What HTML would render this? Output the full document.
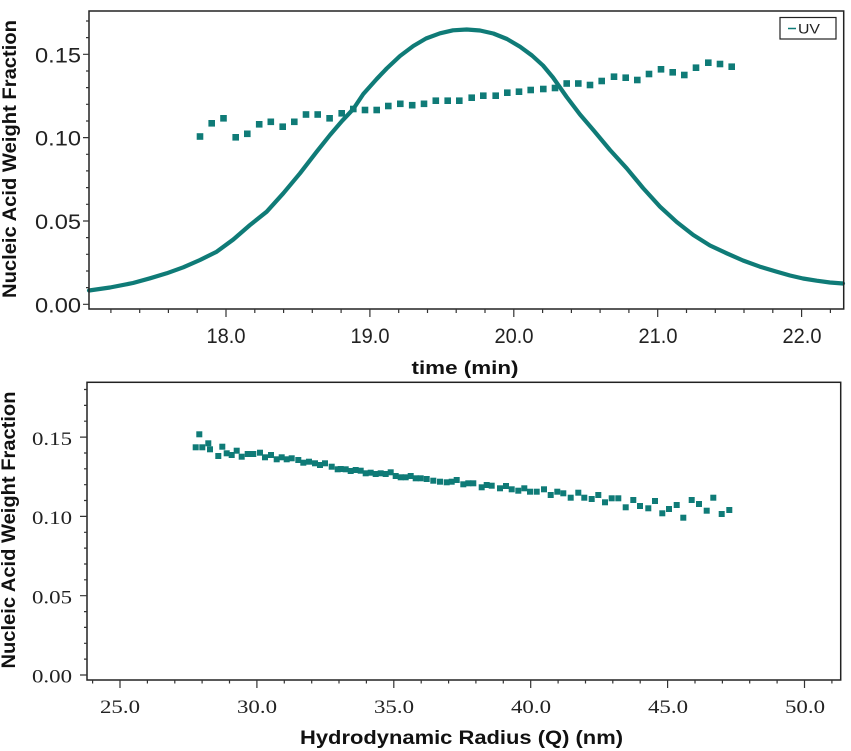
<!DOCTYPE html>
<html><head><meta charset="utf-8"><style>
html,body{margin:0;padding:0;background:#fff;}
svg{display:block;}
.ax{font-family:"Liberation Sans",sans-serif;font-size:21px;fill:#222;}
.axs{font-family:"Liberation Serif",serif;font-size:19px;fill:#222;}
.tt{font-family:"Liberation Sans",sans-serif;font-weight:bold;fill:#111;}
</style></head><body>
<svg width="851" height="751" viewBox="0 0 851 751" xmlns="http://www.w3.org/2000/svg">
<rect width="851" height="751" fill="#fff"/>

<polyline fill="none" stroke="#0f7b77" stroke-width="4.2" stroke-linejoin="round" stroke-linecap="round" points="89,290.5 110,287.5 133,283 150,278.3 166.7,273.3 183.3,267.3 200,260 216.7,251.7 233.3,239.5 250,225 266.7,211.7 283.3,193.3 300,173.3 316.7,151.7 330,135 342,121 353.3,109 363.3,94 376.7,79 386.7,68.5 400,56 413.3,46 426,38.5 440,33.3 453,30.3 466.7,29.5 480,30.5 493.3,33.5 507,39 520,46.7 532,55.5 543,65.5 553,77.5 566.7,97 580,114.5 593.3,130 610,150 626.7,168.3 643,188 660,206.7 676.7,222 693.3,235 710,245.5 726.7,253.3 743,260.5 760,266.7 776,271.5 790,275.5 803,278.5 816.7,280.7 830,282.5 843,283.5"/>

<g fill="#0f7b77">
<rect x="196.7" y="133.2" width="6.6" height="6.6"/>
<rect x="208.4" y="120" width="6.6" height="6.6"/>
<rect x="220.2" y="115" width="6.6" height="6.6"/>
<rect x="232.4" y="134" width="6.6" height="6.6"/>
<rect x="244" y="130.5" width="6.6" height="6.6"/>
<rect x="255.9" y="121" width="6.6" height="6.6"/>
<rect x="267.5" y="118.5" width="6.6" height="6.6"/>
<rect x="279.4" y="123.4" width="6.6" height="6.6"/>
<rect x="291" y="118.5" width="6.6" height="6.6"/>
<rect x="302.7" y="111.2" width="6.6" height="6.6"/>
<rect x="314.4" y="111.2" width="6.6" height="6.6"/>
<rect x="326.3" y="115" width="6.6" height="6.6"/>
<rect x="338.4" y="110" width="6.6" height="6.6"/>
<rect x="350" y="105.7" width="6.6" height="6.6"/>
<rect x="361.7" y="106.7" width="6.6" height="6.6"/>
<rect x="373.4" y="106.7" width="6.6" height="6.6"/>
<rect x="385" y="102.7" width="6.6" height="6.6"/>
<rect x="397" y="100.5" width="6.6" height="6.6"/>
<rect x="408.9" y="101.9" width="6.6" height="6.6"/>
<rect x="420.7" y="100.5" width="6.6" height="6.6"/>
<rect x="432.5" y="97.4" width="6.6" height="6.6"/>
<rect x="444.4" y="97.4" width="6.6" height="6.6"/>
<rect x="456" y="97.4" width="6.6" height="6.6"/>
<rect x="468.4" y="94.4" width="6.6" height="6.6"/>
<rect x="480" y="92.4" width="6.6" height="6.6"/>
<rect x="492.4" y="92.4" width="6.6" height="6.6"/>
<rect x="504" y="89.4" width="6.6" height="6.6"/>
<rect x="515.7" y="88.4" width="6.6" height="6.6"/>
<rect x="527.4" y="86.7" width="6.6" height="6.6"/>
<rect x="540" y="85.7" width="6.6" height="6.6"/>
<rect x="551.7" y="84.7" width="6.6" height="6.6"/>
<rect x="563.4" y="80.2" width="6.6" height="6.6"/>
<rect x="575" y="80.2" width="6.6" height="6.6"/>
<rect x="586.7" y="81.7" width="6.6" height="6.6"/>
<rect x="598.4" y="77.7" width="6.6" height="6.6"/>
<rect x="610.7" y="73.4" width="6.6" height="6.6"/>
<rect x="622.4" y="74.4" width="6.6" height="6.6"/>
<rect x="634" y="76.7" width="6.6" height="6.6"/>
<rect x="645.7" y="70.7" width="6.6" height="6.6"/>
<rect x="657.7" y="66" width="6.6" height="6.6"/>
<rect x="669.4" y="69" width="6.6" height="6.6"/>
<rect x="681" y="71.7" width="6.6" height="6.6"/>
<rect x="692.7" y="64.4" width="6.6" height="6.6"/>
<rect x="705" y="59.4" width="6.6" height="6.6"/>
<rect x="716.7" y="60.7" width="6.6" height="6.6"/>
<rect x="728.4" y="63.4" width="6.6" height="6.6"/>
</g>

<rect x="89" y="11" width="754.7" height="298" fill="none" stroke="#222" stroke-width="1.5"/>

<path stroke="#333" stroke-width="1.2" fill="none" d="M83,304.3H89 M83,221H89 M83,137.6H89 M83,54.3H89 M86,287.6H89 M86,271H89 M86,254.3H89 M86,237.6H89 M86,204.3H89 M86,187.6H89 M86,170.9H89 M86,154.3H89 M86,121H89 M86,104.3H89 M86,87.6H89 M86,71H89 M86,37.6H89 M86,21H89 M226,309V317 M369.9,309V317 M513.8,309V317 M657.7,309V317 M801.6,309V317 M110.9,309V313 M139.7,309V313 M168.4,309V313 M197.2,309V313 M254.8,309V313 M283.6,309V313 M312.3,309V313 M341.1,309V313 M398.7,309V313 M427.5,309V313 M456.2,309V313 M485,309V313 M542.6,309V313 M571.4,309V313 M600.1,309V313 M628.9,309V313 M686.5,309V313 M715.3,309V313 M744,309V313 M772.8,309V313 M830.4,309V313"/>

<g class="ax" text-anchor="end">
<text x="81" y="312.3" textLength="46" lengthAdjust="spacingAndGlyphs">0.00</text>
<text x="81" y="229" textLength="46" lengthAdjust="spacingAndGlyphs">0.05</text>
<text x="81" y="145.6" textLength="46" lengthAdjust="spacingAndGlyphs">0.10</text>
<text x="81" y="62.3" textLength="46" lengthAdjust="spacingAndGlyphs">0.15</text>
</g>
<g class="ax" text-anchor="middle">
<text x="226" y="343" textLength="39" lengthAdjust="spacingAndGlyphs">18.0</text>
<text x="370" y="343" textLength="39" lengthAdjust="spacingAndGlyphs">19.0</text>
<text x="514" y="343" textLength="39" lengthAdjust="spacingAndGlyphs">20.0</text>
<text x="658" y="343" textLength="39" lengthAdjust="spacingAndGlyphs">21.0</text>
<text x="802" y="343" textLength="39" lengthAdjust="spacingAndGlyphs">22.0</text>
</g>
<text class="tt" font-size="18" x="465" y="374" text-anchor="middle" textLength="107" lengthAdjust="spacingAndGlyphs">time (min)</text>
<text class="tt" font-size="19" transform="translate(16,159) rotate(-90)" text-anchor="middle" textLength="278" lengthAdjust="spacingAndGlyphs">Nucleic Acid Weight Fraction</text>

<rect x="780" y="17.5" width="56" height="21.5" fill="#fff" stroke="#222" stroke-width="1.2"/>
<line x1="788" y1="28.5" x2="796" y2="28.5" stroke="#0f7b77" stroke-width="1.5"/>
<text x="798" y="33.5" font-family="Liberation Sans, sans-serif" font-size="14" fill="#222" textLength="22" lengthAdjust="spacingAndGlyphs">UV</text>

<g fill="#0f7b77">
<rect x="196.3" y="431.3" width="6" height="6"/>
<rect x="192.7" y="444.3" width="6" height="6"/>
<rect x="199.3" y="444.3" width="6" height="6"/>
<rect x="205.3" y="440.3" width="6" height="6"/>
<rect x="207" y="446.3" width="6" height="6"/>
<rect x="215.3" y="453" width="6" height="6"/>
<rect x="219.3" y="443.7" width="6" height="6"/>
<rect x="223.7" y="450.3" width="6" height="6"/>
<rect x="228.7" y="452" width="6" height="6"/>
<rect x="233.7" y="447.7" width="6" height="6"/>
<rect x="238.7" y="453.7" width="6" height="6"/>
<rect x="244.7" y="451" width="6" height="6"/>
<rect x="250.3" y="451" width="6" height="6"/>
<rect x="257" y="449.7" width="6" height="6"/>
<rect x="262" y="454.3" width="6" height="6"/>
<rect x="268" y="452" width="6" height="6"/>
<rect x="273.7" y="456.3" width="6" height="6"/>
<rect x="278.7" y="454.3" width="6" height="6"/>
<rect x="283.7" y="456.3" width="6" height="6"/>
<rect x="288.7" y="455.3" width="6" height="6"/>
<rect x="295.3" y="457" width="6" height="6"/>
<rect x="300.3" y="459.7" width="6" height="6"/>
<rect x="306" y="458.7" width="6" height="6"/>
<rect x="312" y="460.3" width="6" height="6"/>
<rect x="317" y="462" width="6" height="6"/>
<rect x="322" y="460.3" width="6" height="6"/>
<rect x="328.7" y="463.7" width="6" height="6"/>
<rect x="334.7" y="466.3" width="6" height="6"/>
<rect x="337.7" y="466" width="6" height="6"/>
<rect x="342.7" y="466.3" width="6" height="6"/>
<rect x="347.7" y="468" width="6" height="6"/>
<rect x="352.7" y="467" width="6" height="6"/>
<rect x="357.7" y="467.7" width="6" height="6"/>
<rect x="362.7" y="470.3" width="6" height="6"/>
<rect x="367.7" y="469.7" width="6" height="6"/>
<rect x="372.7" y="471" width="6" height="6"/>
<rect x="377.7" y="470.3" width="6" height="6"/>
<rect x="382.7" y="471" width="6" height="6"/>
<rect x="387.7" y="469.3" width="6" height="6"/>
<rect x="392.7" y="473" width="6" height="6"/>
<rect x="397.7" y="474.3" width="6" height="6"/>
<rect x="402.7" y="474.3" width="6" height="6"/>
<rect x="407.7" y="473" width="6" height="6"/>
<rect x="412.7" y="475.3" width="6" height="6"/>
<rect x="417.7" y="475.3" width="6" height="6"/>
<rect x="423.7" y="476" width="6" height="6"/>
<rect x="430.3" y="477.7" width="6" height="6"/>
<rect x="437" y="478.7" width="6" height="6"/>
<rect x="443.7" y="479.3" width="6" height="6"/>
<rect x="448.7" y="478.7" width="6" height="6"/>
<rect x="453.7" y="477" width="6" height="6"/>
<rect x="460.3" y="481.3" width="6" height="6"/>
<rect x="465.3" y="480.3" width="6" height="6"/>
<rect x="470.3" y="480.3" width="6" height="6"/>
<rect x="478.7" y="484.3" width="6" height="6"/>
<rect x="483.7" y="482" width="6" height="6"/>
<rect x="488.7" y="482.7" width="6" height="6"/>
<rect x="497" y="485.3" width="6" height="6"/>
<rect x="503" y="483" width="6" height="6"/>
<rect x="508.7" y="486.3" width="6" height="6"/>
<rect x="515.3" y="487.7" width="6" height="6"/>
<rect x="521.3" y="485.3" width="6" height="6"/>
<rect x="527" y="488.7" width="6" height="6"/>
<rect x="533.7" y="488.7" width="6" height="6"/>
<rect x="541" y="486.3" width="6" height="6"/>
<rect x="547.7" y="492" width="6" height="6"/>
<rect x="554.3" y="488.7" width="6" height="6"/>
<rect x="560.3" y="490.3" width="6" height="6"/>
<rect x="567.7" y="494.7" width="6" height="6"/>
<rect x="575.3" y="489.7" width="6" height="6"/>
<rect x="581.3" y="494.7" width="6" height="6"/>
<rect x="588.7" y="496" width="6" height="6"/>
<rect x="595.3" y="492" width="6" height="6"/>
<rect x="602" y="499.3" width="6" height="6"/>
<rect x="608.7" y="495.3" width="6" height="6"/>
<rect x="615.3" y="495.3" width="6" height="6"/>
<rect x="622.7" y="504.3" width="6" height="6"/>
<rect x="630.3" y="497" width="6" height="6"/>
<rect x="637" y="503" width="6" height="6"/>
<rect x="645.3" y="505.3" width="6" height="6"/>
<rect x="652" y="498" width="6" height="6"/>
<rect x="659.3" y="510.3" width="6" height="6"/>
<rect x="666" y="506" width="6" height="6"/>
<rect x="673.7" y="502" width="6" height="6"/>
<rect x="680.3" y="514.7" width="6" height="6"/>
<rect x="688.7" y="497" width="6" height="6"/>
<rect x="696" y="501" width="6" height="6"/>
<rect x="703.7" y="507.7" width="6" height="6"/>
<rect x="710.3" y="494.7" width="6" height="6"/>
<rect x="718.7" y="511" width="6" height="6"/>
<rect x="726.3" y="507" width="6" height="6"/>
</g>

<rect x="87" y="382.3" width="753.7" height="297.7" fill="none" stroke="#222" stroke-width="1.5"/>

<path stroke="#333" stroke-width="1.2" fill="none" d="M80,675H87 M80,595.7H87 M80,516.4H87 M80,437.1H87 M84,659.1H87 M84,643.3H87 M84,627.4H87 M84,611.6H87 M84,579.8H87 M84,564H87 M84,548.1H87 M84,532.3H87 M84,500.5H87 M84,484.7H87 M84,468.8H87 M84,453H87 M84,421.2H87 M84,405.4H87 M84,389.5H87 M120,680V688 M256.9,680V688 M393.8,680V688 M530.7,680V688 M667.6,680V688 M804.5,680V688 M92.6,680V683.5 M147.4,680V683.5 M174.8,680V683.5 M202.1,680V683.5 M229.5,680V683.5 M284.3,680V683.5 M311.7,680V683.5 M339,680V683.5 M366.4,680V683.5 M421.2,680V683.5 M448.6,680V683.5 M475.9,680V683.5 M503.3,680V683.5 M558.1,680V683.5 M585.5,680V683.5 M612.8,680V683.5 M640.2,680V683.5 M695,680V683.5 M722.4,680V683.5 M749.7,680V683.5 M777.1,680V683.5 M831.9,680V683.5"/>

<g class="axs" text-anchor="end">
<text x="72" y="682.7" textLength="40" lengthAdjust="spacingAndGlyphs">0.00</text>
<text x="72" y="603.4" textLength="40" lengthAdjust="spacingAndGlyphs">0.05</text>
<text x="72" y="524.1" textLength="40" lengthAdjust="spacingAndGlyphs">0.10</text>
<text x="72" y="444.8" textLength="40" lengthAdjust="spacingAndGlyphs">0.15</text>
</g>
<g class="axs" text-anchor="middle">
<text x="120" y="713" textLength="40" lengthAdjust="spacingAndGlyphs">25.0</text>
<text x="257" y="713" textLength="40" lengthAdjust="spacingAndGlyphs">30.0</text>
<text x="394" y="713" textLength="40" lengthAdjust="spacingAndGlyphs">35.0</text>
<text x="531" y="713" textLength="40" lengthAdjust="spacingAndGlyphs">40.0</text>
<text x="668" y="713" textLength="40" lengthAdjust="spacingAndGlyphs">45.0</text>
<text x="805" y="713" textLength="40" lengthAdjust="spacingAndGlyphs">50.0</text>
</g>
<text class="tt" font-size="19" x="461.5" y="744" text-anchor="middle" textLength="323" lengthAdjust="spacingAndGlyphs">Hydrodynamic Radius (Q) (nm)</text>
<text class="tt" font-size="19" transform="translate(15,530) rotate(-90)" text-anchor="middle" textLength="277" lengthAdjust="spacingAndGlyphs">Nucleic Acid Weight Fraction</text>
</svg>
</body></html>
